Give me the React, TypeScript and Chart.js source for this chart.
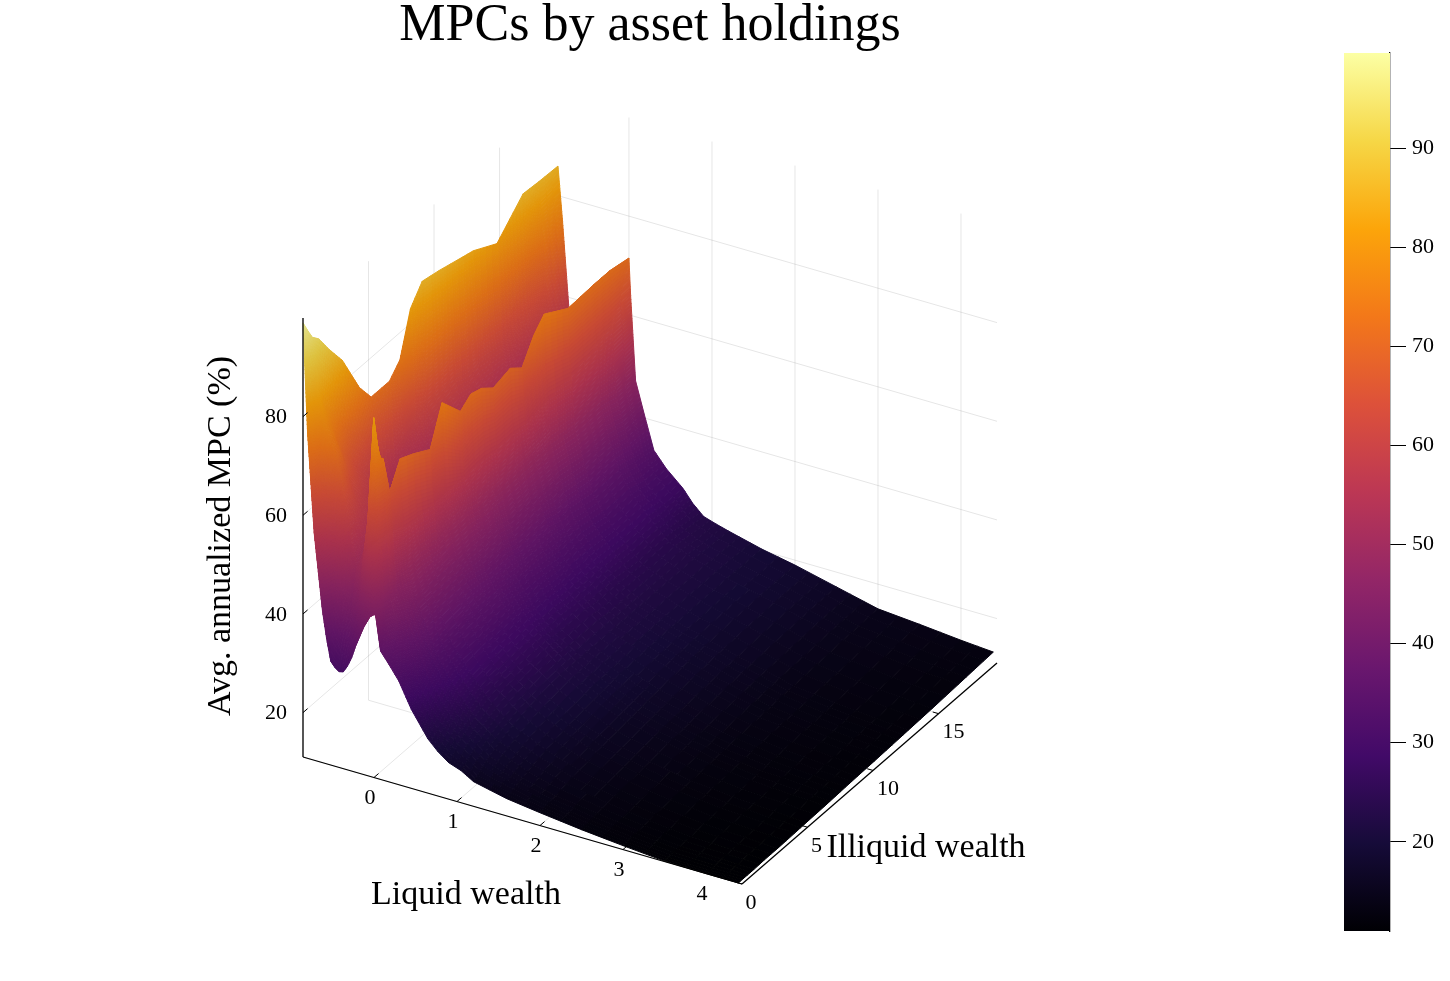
import React, { useEffect, useRef } from "react";
import { Chart, registerables } from "chart.js";
Chart.register(...registerables);

const TITLE = "MPCs by asset holdings";
const LIQUID_LABEL = "Liquid wealth";
const ILLIQUID_LABEL = "Illiquid wealth";
const MPC_LABEL = "Avg. annualized MPC (%)";

const liquidTicks = [0, 1, 2, 3, 4];
const illiquidTicks = [0, 5, 10, 15];
const mpcTicks = [20, 40, 60, 80];
const colorbarTicks = [20, 30, 40, 50, 60, 70, 80, 90];
const colorRange = [11, 99.6];

const liquid = [-0.855, -0.8, -0.72, -0.62, -0.57, -0.52, -0.47, -0.42, -0.37, -0.32, -0.27, -0.22, -0.12, -0.05, 0, 0.02, 0.08, 0.18, 0.3, 0.45, 0.65, 0.77, 0.9, 1.05, 1.2, 1.6, 2, 2.5, 3, 3.5, 4, 4.39];
const illiquid = [0, 0.3, 0.7, 1.2, 2, 3, 4.3, 5.2, 6.6, 7.4, 8.2, 9.1, 10.4, 11.3, 12.2, 13, 14.8, 16.8, 18, 19.46];

const mpcA = [99, 97, 94.5, 93, 89, 84.5, 76, 72, 72, 74.5, 83, 86.5, 85.7, 85, 84.3, 83.7, 81, 86.5, 86.2, 86];
const mpcB = [77, 82, 85, 80, 76, 70, 66, 60, 56, 57, 60, 62, 62, 62, 61, 61, 60, 66, 73, 75];
const mpcC = [57, 68, 78, 76, 70, 64, 58, 54, 52, 52, 53, 54, 54, 54, 54, 54, 54, 54, 55, 57];
const mpcD = [41.7, 60, 74, 72, 65, 60, 55, 52, 50, 50, 50, 50, 51, 51, 51, 51, 51, 51, 52, 54];
const mpcE = [36.3, 56, 71, 68, 62, 58, 54, 51, 50, 50, 50, 50, 50, 50, 50, 50, 50, 50, 51, 53];
const mpcF = [32, 52, 68, 65, 60, 57, 54, 51, 50, 50, 50, 50, 50, 50, 50, 50, 50, 50, 51, 53];
const mpcG = [31, 49, 63, 61, 58, 55, 53, 50, 50, 50, 50, 50, 50, 50, 50, 50, 50, 50, 51, 53];
const mpcH = [30.4, 46, 58, 58, 56, 54, 52, 50, 50, 50, 50, 50, 50, 50, 50, 50, 50, 50, 52, 54];
const mpcI = [30.6, 44, 54, 55, 54, 53, 51, 50, 50, 50, 50, 50, 50, 50, 50, 50, 50, 51, 52, 54];
const mpcJ = [32, 42, 50, 52, 52, 52, 51, 50, 50, 50, 50, 50, 50, 50, 50, 50, 51, 52, 53, 55];
const mpcK = [33.9, 44, 52, 53, 53, 53, 51, 51, 51, 51, 51, 51, 51, 51, 51, 51, 52, 53, 54, 56];
const mpcL = [36.6, 47, 55, 55, 54, 54, 52, 52, 52, 52, 52, 52, 52, 52, 52, 52, 53, 54, 55, 57];
const mpcM = [41, 62, 66, 60, 60, 60, 58, 60, 60, 60, 60, 60, 60, 60, 60, 60, 60, 60, 60, 62];
const mpcN = [43.3, 83, 74, 64, 66, 66, 63, 66, 65, 66, 66, 65, 66, 64, 67, 68, 67, 67, 67, 68];
const mpcO = [44, 70, 74, 66, 71, 69.7, 67.6, 75, 70, 71.7, 71, 69, 70, 68, 72.5, 75, 72, 72.3, 72.3, 71.5];
const mpcP = [44, 62, 66, 60, 63, 62, 60, 66, 62, 63, 63, 62, 62, 61, 63, 65, 63, 63, 63, 64];
const mpcQ = [37, 42, 46, 46, 50, 50, 49, 50, 50, 49, 49, 49, 49, 49, 49, 49, 48, 48, 47, 47];
const mpcR = [34.8, 37, 40, 42, 44, 44, 44, 44, 44, 44, 44, 43, 43, 43, 43, 43, 42, 42, 41, 41];
const mpcS = [32, 33, 35, 37, 39, 40, 40, 40, 39, 39, 39, 38, 38, 38, 37, 37, 36, 36, 35, 34];
const mpcT = [27, 28, 29.5, 31, 33, 34, 35, 35, 35, 34.5, 34, 34, 33.5, 33, 33, 33, 32, 32, 31, 31];
const mpcU = [22, 23, 24.5, 26, 28, 29.5, 30, 30, 30, 30, 29.5, 29.5, 29, 29, 29, 29, 28.5, 28.5, 28, 28];
const mpcV = [20, 21, 22.5, 23.5, 25.5, 27, 27.7, 28, 28, 28, 27.5, 27.5, 27, 27, 27, 27, 26.5, 26.5, 26, 25.5];
const mpcW = [18.4, 19, 20.5, 21.5, 23, 24.5, 25.5, 26, 26, 26, 25.5, 25.5, 25.5, 25, 25, 25, 24.5, 24.5, 24, 23.5];
const mpcX = [17.5, 18, 19, 20, 21.2, 22.5, 23.5, 24, 24.2, 24.2, 24, 24, 24, 23.7, 23.7, 23.7, 23.5, 23.5, 23.1, 22.7];
const mpcY = [16, 16.5, 17.5, 18.5, 19.5, 20.5, 21.5, 22, 22.5, 22.5, 22.5, 22.5, 22.5, 22.5, 22.5, 22.5, 22.5, 22.5, 22.3, 22];
const mpcZ = [14.5, 15, 15.5, 16, 16.8, 17.5, 18.3, 18.8, 19.3, 19.6, 19.8, 20, 20.2, 20.3, 20.4, 20.4, 20.5, 20.5, 20.4, 20.3];
const mpcAA = [13.6, 13.8, 14, 14.3, 14.8, 15.3, 15.9, 16.3, 16.8, 17.1, 17.4, 17.7, 18, 18.2, 18.4, 18.5, 18.8, 19, 19, 19];
const mpcAB = [12.6, 12.7, 12.9, 13.1, 13.4, 13.7, 14.1, 14.4, 14.8, 15, 15.2, 15.5, 15.8, 16, 16.2, 16.3, 16.6, 16.9, 17, 17];
const mpcAC = [11.8, 11.9, 12, 12.1, 12.3, 12.5, 12.8, 13, 13.2, 13.4, 13.5, 13.7, 13.9, 14, 14.2, 14.3, 14.5, 14.8, 14.9, 15];
const mpcAD = [11.1, 11.2, 11.3, 11.4, 11.5, 11.7, 11.9, 12.1, 12.3, 12.4, 12.5, 12.7, 12.9, 13, 13.1, 13.2, 13.5, 13.9, 14.1, 14.3];
const mpcAE = [11, 11, 11.1, 11.2, 11.3, 11.4, 11.5, 11.6, 11.8, 11.9, 12, 12.1, 12.2, 12.3, 12.4, 12.5, 12.7, 13, 13.2, 13.5];
const mpcAF = [11, 11, 11, 11, 11.1, 11.1, 11.2, 11.3, 11.4, 11.5, 11.6, 11.7, 11.8, 11.9, 12, 12.1, 12.3, 12.6, 12.8, 13];
const mpc = [mpcA, mpcB, mpcC, mpcD, mpcE, mpcF, mpcG, mpcH, mpcI, mpcJ, mpcK, mpcL, mpcM, mpcN, mpcO, mpcP, mpcQ, mpcR, mpcS, mpcT, mpcU, mpcV, mpcW, mpcX, mpcY, mpcZ, mpcAA, mpcAB, mpcAC, mpcAD, mpcAE, mpcAF];

// ---- styling / view ----
const INFERNO = ["#000004", "#160b39", "#420a68", "#6a176e", "#932667", "#bc3754", "#dd513a", "#f37819", "#fca50a", "#f6d746", "#fcffa4"];
const hexRgb = (h: string) => [1, 3, 5].map((i) => parseInt(h.slice(i, i + 2), 16));
const INFERNO_RGB = INFERNO.map(hexRgb);
const SHADE = 0.9;
function infernoColor(v: number) {
  const t = Math.max(0, Math.min(1, (v - colorRange[0]) / (colorRange[1] - colorRange[0]))) * (INFERNO_RGB.length - 1);
  const i = Math.min(INFERNO_RGB.length - 2, Math.floor(t));
  const f = t - i;
  const a = INFERNO_RGB[i];
  const b = INFERNO_RGB[i + 1];
  const ch = (k: number) => Math.round((a[k] + (b[k] - a[k]) * f) * SHADE);
  return `rgb(${ch(0)},${ch(1)},${ch(2)})`;
}

const SERIF = '"Liberation Serif", serif';
const TITLE_SIZE = 52;
const TITLE_LINE = 1;
const TITLE_H = TITLE_SIZE * TITLE_LINE;

const XMIN = -0.855, XMAX = 4.434, YMIN = 0, YMAX = 19.46, ZMIN = 11, ZMAX = 100;
// orthographic view: world coordinates to the plane of the x/y scales
function project(x: number, y: number, z: number) {
  const u = (x - XMIN) / (XMAX - XMIN);
  const v = (y - YMIN) / (YMAX - YMIN);
  return { x: 303 + 439 * u + 255 * v, y: 757 + 127 * u - 221 * v - 4.933 * (z - ZMIN) };
}

const seg = (pts: number[][], color: string, width: number, order: number) => ({
  type: "line" as const,
  data: pts.map((p) => project(p[0], p[1], p[2])),
  borderColor: color,
  borderWidth: width,
  pointRadius: 0,
  showLine: true,
  fill: false,
  tension: 0,
  order,
});

const GRID = "rgba(0,0,0,0.10)";
const gridSets = [
  ...liquidTicks.map((t) => seg([[t, YMIN, ZMIN], [t, YMAX, ZMIN], [t, YMAX, ZMAX]], GRID, 1, 3)),
  ...illiquidTicks.map((t) => seg([[XMAX, t, ZMIN], [XMIN, t, ZMIN], [XMIN, t, ZMAX]], GRID, 1, 3)),
  ...mpcTicks.map((t) => seg([[XMIN, YMIN, t], [XMIN, YMAX, t], [XMAX, YMAX, t]], GRID, 1, 3)),
];
const axisSets = [
  seg([[XMIN, YMIN, ZMIN], [XMAX, YMIN, ZMIN]], "#000", 1.3, 1),
  seg([[XMAX, YMIN, ZMIN], [XMAX, YMAX, ZMIN]], "#000", 1.3, 1),
  seg([[XMIN, YMIN, ZMIN], [XMIN, YMIN, ZMAX]], "#000", 1.3, 1),
  ...liquidTicks.map((t) => seg([[t, YMIN, ZMIN], [t, 0.35, ZMIN]], "#000", 1, 1)),
  ...illiquidTicks.map((t) => seg([[XMAX, t, ZMIN], [XMAX - 0.07, t, ZMIN]], "#000", 1, 1)),
  ...mpcTicks.map((t) => seg([[XMIN, YMIN, t], [XMIN, 0.35, t]], "#000", 1, 1)),
];
const surfaceSets = mpc.map((col, i) => ({
  type: "scatter" as const,
  label: "surface",
  data: col.map((z, j) => project(liquid[i], illiquid[j], z)),
  pointRadius: 0,
  showLine: false,
  order: 2,
}));

function paintSurface(chart: any) {
  const { ctx, scales } = chart;
  const px = (p: { x: number; y: number }) => [scales.x.getPixelForValue(p.x), scales.y.getPixelForValue(p.y)];
  ctx.save();
  ctx.lineWidth = 1;
  ctx.lineJoin = "round";
  for (let i = 0; i < liquid.length - 1; i++) {
    for (let j = illiquid.length - 2; j >= 0; j--) {
      const z00 = mpc[i][j], z01 = mpc[i][j + 1], z10 = mpc[i + 1][j], z11 = mpc[i + 1][j + 1];
      const w = liquid[i + 1] - liquid[i], h = illiquid[j + 1] - illiquid[j];
      const subA = Math.min(40, Math.max(2, Math.ceil(Math.max(Math.abs(z10 - z00), Math.abs(z11 - z01)) / 0.8)));
      const subB = Math.min(40, Math.max(2, Math.ceil(Math.max(Math.abs(z01 - z00), Math.abs(z11 - z10)) / 0.8)));
      const at = (a: number, b: number) => {
        const z = (1 - a) * (1 - b) * z00 + (1 - a) * b * z01 + a * (1 - b) * z10 + a * b * z11;
        return { p: px(project(liquid[i] + w * a, illiquid[j] + h * b, z)), z };
      };
      for (let a = 0; a < subA; a++) {
        for (let b = subB - 1; b >= 0; b--) {
          const c = [at(a / subA, b / subB), at((a + 1) / subA, b / subB), at((a + 1) / subA, (b + 1) / subB), at(a / subA, (b + 1) / subB)];
          const color = infernoColor((c[0].z + c[1].z + c[2].z + c[3].z) / 4);
          ctx.beginPath();
          ctx.moveTo(c[0].p[0], c[0].p[1]);
          for (let k = 1; k < 4; k++) ctx.lineTo(c[k].p[0], c[k].p[1]);
          ctx.closePath();
          ctx.fillStyle = color;
          ctx.strokeStyle = color;
          ctx.fill();
          ctx.stroke();
        }
      }
    }
  }
  ctx.restore();
}

let painted = false;
const surfacePlugin = {
  id: "surface3d",
  beforeDatasetsDraw() {
    painted = false;
  },
  afterDatasetDraw(chart: any, args: any) {
    if (!painted && chart.data.datasets[args.index].label === "surface") {
      painted = true;
      paintSurface(chart);
    }
  },
};

const labelPlugin = {
  id: "axisText",
  afterDraw(chart: any) {
    const { ctx, scales } = chart;
    const put = (text: string, x: number, y: number, size: number, rot = 0) => {
      ctx.save();
      ctx.translate(scales.x.getPixelForValue(x), scales.y.getPixelForValue(y));
      ctx.rotate(rot);
      ctx.font = `${size}px ${SERIF}`;
      ctx.fillStyle = "#000";
      ctx.textAlign = "center";
      ctx.textBaseline = "middle";
      ctx.fillText(text, 0, 0);
      ctx.restore();
    };
    liquidTicks.forEach((t) => {
      const p = project(t, YMIN, ZMIN);
      put(String(t), p.x - 4, p.y + 21, 22);
    });
    illiquidTicks.forEach((t) => {
      const p = project(XMAX, t, ZMIN);
      put(String(t), p.x + (t < 10 ? 9 : 15), p.y + 19, 22);
    });
    mpcTicks.forEach((t) => {
      const p = project(XMIN, YMIN, t);
      put(String(t), p.x - 27, p.y + 1, 22);
    });
    put(LIQUID_LABEL, 466, 895, 34);
    put(ILLIQUID_LABEL, 926, 848, 34);
    put(MPC_LABEL, 221, 536, 34, -Math.PI / 2);
  },
};

export default function App() {
  const mainRef = useRef<HTMLCanvasElement>(null);
  const barRef = useRef<HTMLCanvasElement>(null);
  useEffect(() => {
    const main = new Chart(mainRef.current as HTMLCanvasElement, {
      type: "scatter",
      data: { datasets: [...gridSets, ...surfaceSets, ...axisSets] as any },
      plugins: [surfacePlugin, labelPlugin],
      options: {
        responsive: false,
        animation: false,
        events: [],
        layout: { padding: 0 },
        scales: {
          x: { type: "linear", display: false, min: 0, max: 1300 },
          y: { type: "linear", display: false, min: TITLE_H, max: 981, reverse: true },
        },
        plugins: {
          legend: { display: false },
          tooltip: { enabled: false },
          title: {
            display: true,
            text: TITLE,
            color: "#000",
            padding: 0,
            font: { family: SERIF, size: TITLE_SIZE, weight: "normal", lineHeight: TITLE_LINE },
          },
        },
      },
    } as any);
    const bar = new Chart(barRef.current as HTMLCanvasElement, {
      type: "bar",
      data: {
        labels: ["MPC"],
        datasets: [
          {
            data: [colorRange],
            barPercentage: 1,
            categoryPercentage: 1,
            backgroundColor: (c: any) => {
              const a = c.chart.chartArea;
              if (!a) return "#000";
              const g = c.chart.ctx.createLinearGradient(0, a.bottom, 0, a.top);
              INFERNO.forEach((h, i) => g.addColorStop(i / (INFERNO.length - 1), h));
              return g;
            },
          },
        ],
      },
      options: {
        responsive: false,
        animation: false,
        events: [],
        layout: { padding: { left: 44, top: 53, bottom: 50, right: 0 } },
        scales: {
          x: { display: false },
          y: {
            position: "right",
            min: colorRange[0],
            max: colorRange[1],
            afterBuildTicks: (s: any) => {
              s.ticks = colorbarTicks.map((value) => ({ value }));
            },
            afterFit: (s: any) => {
              s.width = 60;
            },
            border: { display: true, color: "#000", width: 1.3 },
            grid: { drawOnChartArea: false, drawTicks: true, tickLength: 16, tickColor: "#000", tickWidth: 1 },
            ticks: { color: "#000", padding: 6, autoSkip: false, font: { family: SERIF, size: 22 } },
          },
        },
        plugins: { legend: { display: false }, tooltip: { enabled: false } },
      },
    } as any);
    return () => {
      main.destroy();
      bar.destroy();
    };
  }, []);
  return (
    <>
      <canvas ref={mainRef} width={1300} height={981} style={{ position: "absolute", left: 0, top: 0 }} />
      <canvas ref={barRef} width={150} height={981} style={{ position: "absolute", left: 1300, top: 0 }} />
    </>
  );
}
